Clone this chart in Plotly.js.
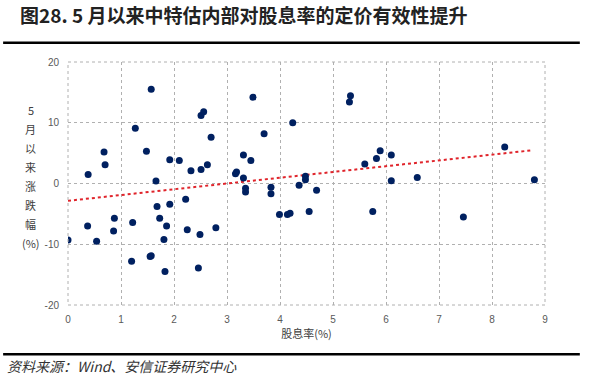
<!DOCTYPE html>
<html><head><meta charset="utf-8">
<script src="https://cdn.plot.ly/plotly-3.0.1.min.js"></script>
<style>html,body{margin:0;padding:0;background:#fff;}#c{width:592px;height:382px;}</style>
</head><body><div id="c"></div>
<script>
const titleText = "图28. 5 月以来中特估内部对股息率的定价有效性提升";
const sourceText = "资料来源：Wind、安信证券研究中心";
const xTitle = "股息率(%)";
const yTitleParts = ["5", "月", "以", "来", "涨", "跌", "幅", "(%)"];
const dividendYield = [0.00,0.38,0.37,0.54,0.68,0.70,0.875,0.86,1.22,1.20,1.27,1.48,1.57,1.55,1.57,1.66,1.68,1.73,1.81,1.83,1.86,1.92,1.92,2.10,2.22,2.25,2.32,2.46,2.49,2.51,2.51,2.56,2.63,2.70,2.79,3.16,3.18,3.31,3.31,3.35,3.35,3.45,3.49,3.70,3.83,3.83,3.99,4.14,4.19,4.24,4.36,4.48,4.48,4.55,4.69,5.31,5.33,5.60,5.75,5.82,5.89,6.10,6.10,6.59,7.46,8.24,8.80];
const priceChange   = [-9.3,1.5,-7.0,-9.5,5.2,3.1,-5.7,-7.8,-6.4,-12.8,9.1,5.3,15.5,-12.0,-11.9,0.4,-3.8,-5.7,-9.2,-14.5,-7.0,-3.4,3.9,3.8,-2.6,-7.6,2.1,-13.9,-8.4,2.3,11.2,11.8,3.1,7.6,-7.3,1.6,1.9,4.7,0.9,-0.8,-1.4,3.8,14.2,8.2,-0.6,-1.7,-5.1,-5.1,-4.9,10.0,-0.3,1.2,0.6,-4.6,-1.1,13.4,14.45,3.2,-4.6,4.1,5.4,4.7,0.45,1.0,-5.5,6.0,0.6];
const trendX = [0, 8.76];
const trendIntercept = -2.85;
const trendSlope = 0.95;
const trendY = trendX.map(x => trendIntercept + trendSlope * x);
const xTicks = [0,1,2,3,4,5,6,7,8,9];
const yTicks = [-20,-10,0,10,20];

const tickFont = {family: "Liberation Sans, Arial, sans-serif", size: 10, color: "#595959"};
const data = [
  {x: trendX, y: trendY, type: "scatter", mode: "lines",
   line: {color: "#e0242b", width: 2, dash: "dot"}, hoverinfo: "skip"},
  {x: dividendYield, y: priceChange, type: "scatter", mode: "markers",
   marker: {color: "#002060", size: 7}}
];
const yLabelAnns = yTitleParts.map((t, i) => ({
  text: t, xref: "paper", yref: "paper", x: -0.078, y: (305 - (110 + i * 19)) / 243,
  xanchor: "center", yanchor: "middle", showarrow: false,
  font: {family: "Noto Sans CJK SC", size: 11, color: "#404040"}
}));
const layout = {
  width: 592, height: 382,
  margin: {l: 68, r: 47, t: 62, b: 77},
  paper_bgcolor: "#fff", plot_bgcolor: "#fff",
  showlegend: false,
  xaxis: {range: [0, 9], tickvals: xTicks, ticktext: xTicks.map(String),
    showgrid: true, gridcolor: "#b0b0b0", griddash: "dot", gridwidth: 1,
    zeroline: false, showline: false, ticks: "", tickfont: tickFont, ticklabelstandoff: 7,
    title: {text: xTitle, font: {family: "Noto Sans CJK SC", size: 11, color: "#404040"}, standoff: 4}},
  yaxis: {range: [-20, 20], tickvals: yTicks, ticktext: yTicks.map(String),
    showgrid: true, gridcolor: "#b0b0b0", griddash: "dot", gridwidth: 1,
    zeroline: false, showline: false, ticks: "", tickfont: tickFont, ticklabelstandoff: 8},
  shapes: [
    {type: "rect", xref: "paper", yref: "paper", x0: 0, x1: 1, y0: 0, y1: 1,
     line: {color: "#b0b0b0", width: 1, dash: "dot"}},
    {type: "line", xref: "paper", yref: "paper", x0: -0.136, x1: 1.073, y0: 1.079, y1: 1.079,
     line: {color: "#000", width: 2.5}},
    {type: "line", xref: "paper", yref: "paper", x0: -0.136, x1: 1.073, y0: -0.203, y1: -0.203,
     line: {color: "#000", width: 2.5}}
  ],
  annotations: [
    {text: "<b>" + titleText + "</b>", xref: "paper", yref: "paper", x: -0.105, y: 1.195,
     xanchor: "left", yanchor: "middle", showarrow: false,
     font: {family: "Noto Sans CJK SC", size: 19, color: "#222"}},
    {text: "<i>" + sourceText + "</i>", xref: "paper", yref: "paper", x: -0.132, y: -0.251,
     xanchor: "left", yanchor: "middle", showarrow: false,
     font: {family: "Noto Sans CJK SC", size: 14, color: "#333"}}
  ].concat(yLabelAnns)
};
Plotly.newPlot("c", data, layout, {staticPlot: true, displayModeBar: false});
</script></body></html>
